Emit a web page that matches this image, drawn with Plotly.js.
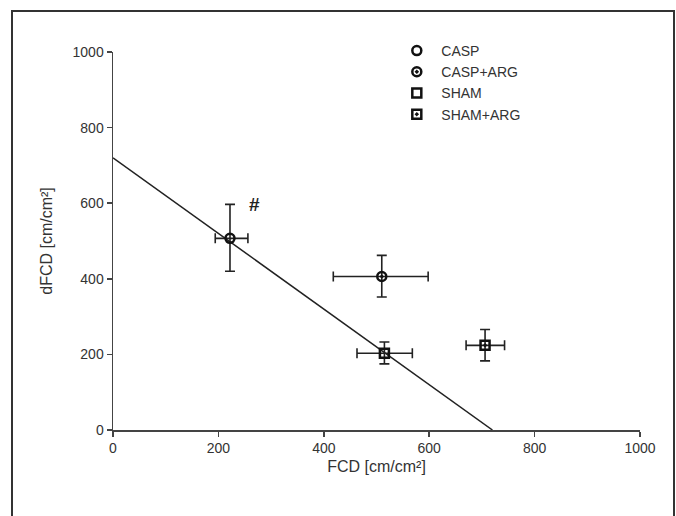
<!DOCTYPE html>
<html>
<head>
<meta charset="utf-8">
<script src="https://cdn.plot.ly/plotly-3.0.1.min.js"></script>
<style>
html,body{margin:0;padding:0;background:#fff;}
#wrap{position:relative;width:676px;height:516px;overflow:hidden;}
#chart{position:absolute;left:0;top:0;width:676px;height:516px;}
#frame{position:absolute;left:11px;top:10px;width:660px;height:540px;border:2px solid #333;pointer-events:none;}
</style>
</head>
<body>
<div id="wrap"><div id="chart"></div><div id="frame"></div></div>
<script>
// Data
const groups = ["CASP", "CASP+ARG", "SHAM", "SHAM+ARG"];
const symbols = ["circle-open", "circle-open-dot", "square-open", "square-open-dot"];
const fcd = [222, 510, 515, 706];
const fcdErrPlus = [34, 88, 53, 37];
const fcdErrMinus = [28, 92, 52, 36];
const dfcd = [507, 406, 203, 224];
const dfcdErrPlus = [90, 56, 30, 42];
const dfcdErrMinus = [87, 54, 28, 41];
const fitX = [0, 720];
const fitY = [720, 0];
const markText = "#";
const markX = 268;
const markY = 597;

const traces = [{
  x: fitX, y: fitY, mode: "lines", showlegend: false, hoverinfo: "skip",
  line: {color: "#222", width: 1.5}
}];
groups.forEach((g, i) => {
  traces.push({
    name: g, x: [fcd[i]], y: [dfcd[i]], type: "scatter", mode: "markers",
    marker: {symbol: symbols[i], size: 9, color: "#111", line: {color: "#111", width: 2.5}},
    error_x: {type: "data", symmetric: false, array: [fcdErrPlus[i]], arrayminus: [fcdErrMinus[i]], color: "#222", thickness: 1.6, width: 5},
    error_y: {type: "data", symmetric: false, array: [dfcdErrPlus[i]], arrayminus: [dfcdErrMinus[i]], color: "#222", thickness: 1.6, width: 5}
  });
});

const axisCommon = {
  showgrid: false, zeroline: false, showline: true, linecolor: "#444", linewidth: 1.5,
  ticks: "outside", ticklen: 5, tickwidth: 1.5, tickcolor: "#444",
  tickfont: {family: "Liberation Sans, Arial, sans-serif", size: 14, color: "#333"},
  range: [0, 1000], autorange: false, tickvals: [0, 200, 400, 600, 800, 1000]
};

const layout = {
  width: 676, height: 516,
  margin: {l: 113, r: 36, t: 52, b: 86},
  paper_bgcolor: "#fff", plot_bgcolor: "#fff",
  font: {family: "Liberation Sans, Arial, sans-serif", color: "#222"},
  xaxis: Object.assign({}, axisCommon, {title: {text: "FCD [cm/cm²]", font: {size: 16, color: "#333"}, standoff: 5}}),
  yaxis: Object.assign({}, axisCommon, {title: {text: "dFCD [cm/cm²]", font: {size: 16, color: "#333"}, standoff: 16}}),
  showlegend: true,
  legend: {x: 0.53, y: 1.045, xanchor: "left", yanchor: "top", bgcolor: "rgba(0,0,0,0)",
    font: {size: 14, color: "#333"}, tracegroupgap: 0, itemwidth: 39},
  annotations: [{x: markX, y: markY, xref: "x", yref: "y", text: "<b>" + markText + "</b>", showarrow: false,
    font: {size: 19, color: "#222"}}]
};

Plotly.newPlot("chart", traces, layout, {displayModeBar: false, staticPlot: true});
</script>
</body>
</html>
